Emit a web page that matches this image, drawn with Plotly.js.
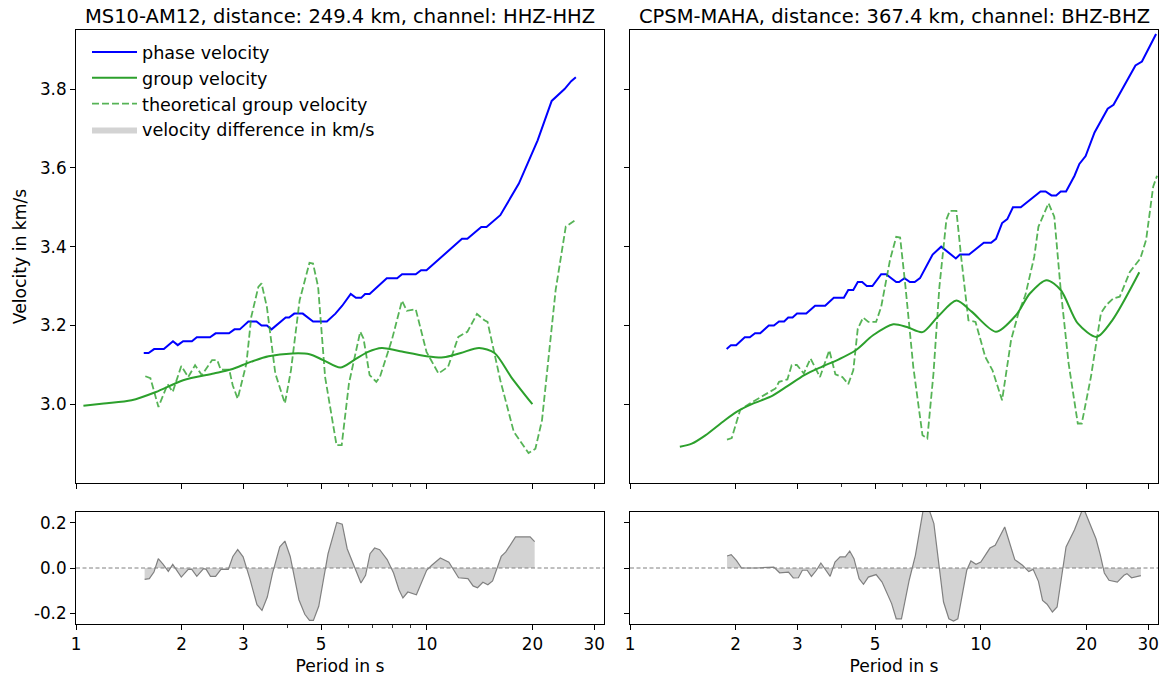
<!DOCTYPE html>
<html>
<head>
<meta charset="utf-8">
<script src="https://cdn.plot.ly/plotly-3.0.1.min.js"></script>
<style>
  html, body { margin: 0; padding: 0; background: #ffffff; }
  #chart { width: 1163px; height: 682px; }
</style>
</head>
<body>
<div id="chart"></div>
<script>
// ---- MS10-AM12 (left column) ----
const leftPhasePeriod = [1.56, 1.61, 1.67, 1.78, 1.89, 1.95, 2.02, 2.14, 2.21, 2.41, 2.50, 2.73, 2.83, 2.93, 3.10, 3.27, 3.38, 3.50, 3.61, 3.96, 4.05, 4.19, 4.43, 4.74, 5.19, 5.49, 5.74, 6.07, 6.28, 6.50, 6.67, 6.87, 7.69, 8.23, 8.50, 9.30, 9.63, 9.98, 12.6, 13.05, 14.3, 14.8, 16.2, 18.3, 20.7, 22.7, 24.7, 25.8, 26.6];
const leftPhaseVel = [3.13, 3.13, 3.14, 3.14, 3.16, 3.15, 3.16, 3.16, 3.17, 3.17, 3.18, 3.18, 3.19, 3.19, 3.21, 3.21, 3.20, 3.20, 3.19, 3.22, 3.22, 3.23, 3.23, 3.21, 3.21, 3.23, 3.25, 3.28, 3.27, 3.27, 3.28, 3.28, 3.32, 3.32, 3.33, 3.33, 3.34, 3.34, 3.42, 3.42, 3.45, 3.45, 3.48, 3.56, 3.67, 3.77, 3.80, 3.82, 3.83];

const leftGroupPeriod = [1.05, 1.20, 1.44, 1.69, 2.02, 2.47, 2.76, 3.16, 3.54, 4.14, 4.63, 5.07, 5.67, 6.20, 6.80, 7.44, 8.33, 9.98, 11.17, 12.5, 14.1, 15.6, 17.4, 20.0];
const leftGroupVel = [2.996, 3.002, 3.010, 3.031, 3.061, 3.078, 3.088, 3.108, 3.122, 3.129, 3.127, 3.112, 3.093, 3.112, 3.133, 3.143, 3.135, 3.122, 3.119, 3.130, 3.143, 3.130, 3.069, 3.000];

const leftTheoPeriod = [1.576, 1.63, 1.718, 1.825, 1.886, 1.996, 2.089, 2.185, 2.284, 2.443, 2.527, 2.585, 2.734, 2.797, 2.89, 3.06, 3.16, 3.31, 3.38, 3.50, 3.70, 3.94, 4.10, 4.34, 4.63, 4.74, 4.90, 5.13, 5.53, 5.72, 6.00, 6.46, 6.60, 6.87, 7.18, 7.35, 7.95, 8.50, 8.77, 9.30, 9.98, 10.8, 11.5, 12.3, 13.05, 13.9, 14.6, 14.9, 16.2, 17.7, 19.5, 20.4, 21.3, 23.3, 24.9, 26.4];
const leftTheoVel = [3.071, 3.066, 2.993, 3.051, 3.031, 3.097, 3.069, 3.099, 3.074, 3.112, 3.112, 3.088, 3.088, 3.048, 3.014, 3.103, 3.222, 3.298, 3.307, 3.247, 3.078, 3.002, 3.086, 3.264, 3.359, 3.357, 3.298, 3.069, 2.896, 2.896, 3.053, 3.184, 3.167, 3.074, 3.057, 3.069, 3.163, 3.263, 3.237, 3.241, 3.133, 3.078, 3.095, 3.171, 3.184, 3.229, 3.213, 3.209, 3.061, 2.930, 2.876, 2.887, 2.959, 3.290, 3.451, 3.466];

const leftDiffPeriod = [1.569, 1.618, 1.668, 1.716, 1.772, 1.833, 1.887, 1.996, 2.089, 2.138, 2.21, 2.31, 2.35, 2.417, 2.50, 2.59, 2.717, 2.80, 2.89, 2.995, 3.13, 3.28, 3.39, 3.51, 3.63, 3.81, 3.94, 4.08, 4.32, 4.49, 4.63, 4.75, 4.92, 5.23, 5.54, 5.74, 5.93, 6.23, 6.49, 6.69, 6.89, 7.10, 7.34, 7.71, 8.04, 8.33, 8.55, 8.83, 9.34, 9.99, 10.33, 10.93, 11.56, 12.32, 13.1, 13.55, 13.95, 14.45, 14.93, 15.4, 16.3, 16.8, 17.9, 19.7, 20.3];
const leftDiffVel = [-0.050, -0.047, -0.018, 0.041, 0.016, -0.015, 0.016, -0.040, -0.006, -0.006, -0.037, -0.003, -0.006, -0.037, -0.037, -0.006, -0.006, 0.051, 0.081, 0.049, -0.047, -0.162, -0.187, -0.128, -0.025, 0.093, 0.119, 0.051, -0.140, -0.204, -0.231, -0.231, -0.169, 0.063, 0.201, 0.193, 0.085, 0.004, -0.066, -0.032, 0.063, 0.088, 0.081, 0.037, -0.022, -0.096, -0.132, -0.106, -0.118, -0.010, 0.012, 0.044, 0.026, -0.043, -0.047, -0.079, -0.087, -0.063, -0.074, -0.057, 0.051, 0.071, 0.137, 0.137, 0.116];

// ---- CPSM-MAHA (right column) ----
const rightPhasePeriod = [1.886, 1.94, 2.007, 2.124, 2.196, 2.272, 2.35, 2.487, 2.572, 2.659, 2.75, 2.825, 2.907, 2.993, 3.18, 3.37, 3.60, 3.81, 4.07, 4.19, 4.33, 4.46, 4.59, 4.73, 4.91, 5.20, 5.37, 5.74, 5.85, 6.06, 6.28, 6.48, 6.71, 7.29, 7.71, 8.49, 8.72, 9.26, 10.2, 10.7, 11.05, 11.5, 11.9, 12.35, 12.6, 13.0, 14.8, 15.3, 15.9, 16.4, 16.9, 17.5, 18.5, 19.1, 19.9, 21.1, 23.0, 23.9, 27.6, 28.8, 31.6];
const rightPhaseVel = [3.14, 3.15, 3.15, 3.17, 3.17, 3.18, 3.18, 3.20, 3.20, 3.21, 3.21, 3.22, 3.22, 3.23, 3.23, 3.25, 3.25, 3.27, 3.27, 3.29, 3.29, 3.31, 3.31, 3.30, 3.30, 3.33, 3.33, 3.31, 3.31, 3.32, 3.31, 3.31, 3.32, 3.38, 3.40, 3.37, 3.38, 3.38, 3.41, 3.41, 3.42, 3.46, 3.47, 3.50, 3.50, 3.50, 3.54, 3.54, 3.53, 3.53, 3.54, 3.54, 3.58, 3.61, 3.63, 3.69, 3.75, 3.76, 3.86, 3.87, 3.94];

const rightGroupPeriod = [1.387, 1.50, 1.64, 1.836, 2.007, 2.248, 2.516, 2.81, 3.14, 3.52, 3.94, 4.40, 4.93, 5.63, 6.16, 6.82, 7.54, 8.52, 9.42, 11.05, 12.6, 13.8, 15.4, 16.9, 18.9, 21.4, 23.7, 28.3];
const rightGroupVel = [2.892, 2.900, 2.921, 2.955, 2.980, 3.002, 3.019, 3.046, 3.074, 3.095, 3.114, 3.137, 3.175, 3.203, 3.196, 3.183, 3.222, 3.263, 3.235, 3.184, 3.226, 3.281, 3.315, 3.290, 3.205, 3.171, 3.213, 3.335];

const rightTheoPeriod = [1.89, 1.95, 2.06, 2.196, 2.60, 2.66, 2.81, 2.89, 2.99, 3.13, 3.27, 3.48, 3.70, 3.85, 4.03, 4.19, 4.33, 4.46, 4.62, 4.78, 5.03, 5.20, 5.51, 5.74, 5.89, 6.10, 6.42, 6.82, 7.04, 7.33, 7.62, 7.98, 8.16, 8.52, 8.81, 9.22, 9.66, 10.3, 10.8, 11.5, 12.2, 12.8, 13.4, 14.2, 14.6, 15.6, 16.2, 16.9, 17.8, 18.9, 19.4, 20.6, 22.0, 22.8, 23.9, 24.9, 26.6, 28.5, 29.6, 31.0, 31.8];
const rightTheoVel = [2.910, 2.914, 2.985, 3.002, 3.040, 3.057, 3.063, 3.099, 3.100, 3.078, 3.116, 3.069, 3.137, 3.076, 3.069, 3.051, 3.086, 3.192, 3.220, 3.209, 3.209, 3.247, 3.366, 3.425, 3.423, 3.298, 3.095, 2.921, 2.913, 3.078, 3.298, 3.469, 3.491, 3.491, 3.366, 3.213, 3.209, 3.120, 3.086, 3.010, 3.163, 3.231, 3.277, 3.374, 3.451, 3.510, 3.476, 3.290, 3.103, 2.951, 2.951, 3.069, 3.231, 3.252, 3.269, 3.273, 3.336, 3.370, 3.417, 3.552, 3.580];

const rightDiffPeriod = [1.891, 1.943, 2.01, 2.08, 2.30, 2.57, 2.67, 2.83, 2.92, 3.02, 3.10, 3.20, 3.29, 3.40, 3.50, 3.61, 3.72, 3.84, 3.97, 4.11, 4.23, 4.35, 4.50, 4.63, 4.78, 5.03, 5.23, 5.57, 5.74, 5.94, 6.25, 6.51, 6.84, 7.00, 7.15, 7.35, 7.83, 8.11, 8.36, 8.60, 9.12, 9.37, 9.69, 10.0, 10.62, 10.99, 11.7, 12.5, 13.15, 13.7, 14.1, 14.6, 15.0, 15.45, 16.0, 16.5, 17.5, 18.5, 19.4, 19.7, 21.3, 21.9, 22.5, 23.2, 24.5, 25.6, 26.1, 26.9, 28.6];
const rightDiffVel = [0.053, 0.059, 0.034, 0.000, 0.000, 0.004, -0.021, -0.018, -0.044, -0.043, -0.010, -0.010, -0.037, -0.010, 0.022, -0.007, -0.037, 0.026, 0.049, 0.049, 0.075, 0.041, -0.047, -0.072, -0.040, -0.029, -0.062, -0.157, -0.224, -0.224, -0.054, 0.056, 0.250, 0.280, 0.250, 0.196, -0.150, -0.224, -0.234, -0.224, -0.010, 0.031, 0.016, 0.026, 0.088, 0.100, 0.181, 0.037, 0.012, -0.016, -0.006, -0.059, -0.143, -0.160, -0.194, -0.172, 0.093, 0.169, 0.250, 0.258, 0.129, 0.059, -0.022, -0.054, -0.062, -0.032, -0.025, -0.043, -0.034];

const panelTitles = ['MS10-AM12, distance: 249.4 km, channel: HHZ-HHZ', 'CPSM-MAHA, distance: 367.4 km, channel: BHZ-BHZ'];
const periodTicks = [1, 2, 3, 5, 10, 20, 30];
const periodMinorTicks = [4, 6, 7, 8, 9];
const velocityTicks = [3.0, 3.2, 3.4, 3.6, 3.8];
const diffTicks = [-0.2, 0.0, 0.2];
const diffTickText = ['-0.2', '0.0', '0.2'];

// ---- figure geometry (pixels of the 1163 x 682 page) ----
const W = 1163, H = 682;
const px = v => v / W;
const py = v => 1 - v / H;
const colLeft = [px(76), px(604)];
const colRight = [px(630), px(1158)];
const rowTop = [py(483), py(30)];
const rowBottom = [py(624), py(512)];

const FONT = 'DejaVu Sans';
const BLUE = '#0000ff';
const GREEN = '#2ca02c';
const GREEN_DASH = 'rgba(44,160,44,0.8)';

function panelTraces(suffixTop, suffixBottom, d, legend) {
  const xt = 'x' + suffixTop, yt = 'y' + suffixTop;
  const xb = 'x' + suffixBottom, yb = 'y' + suffixBottom;
  return [
    { x: d.phaseT, y: d.phaseV, xaxis: xt, yaxis: yt, type: 'scatter', mode: 'lines',
      name: 'phase velocity', showlegend: legend,
      line: { color: BLUE, width: 2 } },
    { x: d.groupT, y: d.groupV, xaxis: xt, yaxis: yt, type: 'scatter', mode: 'lines',
      name: 'group velocity', showlegend: legend,
      line: { color: GREEN, width: 2, shape: 'spline', smoothing: 0.8 } },
    { x: d.theoT, y: d.theoV, xaxis: xt, yaxis: yt, type: 'scatter', mode: 'lines',
      name: 'theoretical group velocity', showlegend: legend,
      line: { color: GREEN_DASH, width: 1.8, dash: '7px,3px' } },
    { x: d.diffT, y: d.diffV, xaxis: xb, yaxis: yb, type: 'scatter', mode: 'lines',
      name: 'velocity difference in km/s', showlegend: legend,
      fill: 'tozeroy', fillcolor: '#d3d3d3', line: { width: 0, color: '#d3d3d3' } },
    { x: d.diffT, y: d.diffV, xaxis: xb, yaxis: yb, type: 'scatter', mode: 'lines',
      showlegend: false, line: { color: '#808080', width: 1.2 } }
  ];
}

const traces = [].concat(
  panelTraces('', '3', {
    phaseT: leftPhasePeriod, phaseV: leftPhaseVel,
    groupT: leftGroupPeriod, groupV: leftGroupVel,
    theoT: leftTheoPeriod, theoV: leftTheoVel,
    diffT: leftDiffPeriod, diffV: leftDiffVel
  }, true),
  panelTraces('2', '4', {
    phaseT: rightPhasePeriod, phaseV: rightPhaseVel,
    groupT: rightGroupPeriod, groupV: rightGroupVel,
    theoT: rightTheoPeriod, theoV: rightTheoVel,
    diffT: rightDiffPeriod, diffV: rightDiffVel
  }, false)
);

const tickFont = { family: FONT, size: 16.8, color: '#000000' };
const labelFont = { family: FONT, size: 17.2, color: '#000000' };

function periodAxis(domain, anchor, labelled) {
  return {
    type: 'log', domain: domain, anchor: anchor, range: [0, Math.log10(32)],
    tickmode: 'array', tickvals: periodTicks, ticktext: periodTicks.map(String),
    showticklabels: labelled, ticks: 'outside', ticklen: 5, tickwidth: 1, tickcolor: '#000',
    minor: { tickmode: 'array', tickvals: periodMinorTicks, ticks: 'outside', ticklen: 3, tickwidth: 0.8, tickcolor: '#000', showgrid: false },
    showline: true, linecolor: '#000', linewidth: 1, mirror: true,
    showgrid: false, zeroline: false, tickfont: tickFont,
    title: labelled ? { text: 'Period in s', font: labelFont, standoff: 6 } : { text: '' }
  };
}

function velocityAxis(domain, anchor, labelled) {
  return {
    domain: domain, anchor: anchor, range: [2.8, 3.95],
    tickmode: 'array', tickvals: velocityTicks, ticktext: velocityTicks.map(v => v.toFixed(1)),
    showticklabels: labelled, ticks: 'outside', ticklen: 5, tickwidth: 1, tickcolor: '#000',
    showline: true, linecolor: '#000', linewidth: 1, mirror: true,
    showgrid: false, zeroline: false, tickfont: tickFont,
    title: labelled ? { text: 'Velocity in km/s', font: labelFont, standoff: 8 } : { text: '' }
  };
}

function diffAxis(domain, anchor, labelled) {
  return {
    domain: domain, anchor: anchor, range: [-0.247, 0.247],
    tickmode: 'array', tickvals: diffTicks, ticktext: diffTickText,
    showticklabels: labelled, ticks: 'outside', ticklen: 5, tickwidth: 1, tickcolor: '#000',
    showline: true, linecolor: '#000', linewidth: 1, mirror: true,
    showgrid: false, zeroline: false, tickfont: tickFont
  };
}

function zeroLine(xref, yref) {
  return { type: 'line', xref: xref + ' domain', yref: yref, x0: 0, x1: 1, y0: 0, y1: 0,
           line: { color: '#808080', width: 1, dash: '4px,2.5px' }, layer: 'above' };
}

function panelTitle(text, domain) {
  return { text: text, xref: 'paper', yref: 'paper', x: (domain[0] + domain[1]) / 2, y: py(17),
           xanchor: 'center', yanchor: 'middle', showarrow: false,
           font: { family: FONT, size: 19.5, color: '#000' } };
}

const layout = {
  width: W, height: H,
  margin: { l: 0, r: 0, t: 0, b: 0 },
  paper_bgcolor: '#ffffff', plot_bgcolor: '#ffffff',
  font: { family: FONT, color: '#000' },
  showlegend: true,
  legend: {
    x: px(87), y: py(34), xanchor: 'left', yanchor: 'top',
    bgcolor: 'rgba(0,0,0,0)', borderwidth: 0, itemwidth: 45,
    font: { family: FONT, size: 17.6, color: '#000' }
  },
  xaxis: periodAxis(colLeft, 'y', false),
  yaxis: velocityAxis(rowTop, 'x', true),
  xaxis2: periodAxis(colRight, 'y2', false),
  yaxis2: velocityAxis(rowTop, 'x2', false),
  xaxis3: periodAxis(colLeft, 'y3', true),
  yaxis3: diffAxis(rowBottom, 'x3', true),
  xaxis4: periodAxis(colRight, 'y4', true),
  yaxis4: diffAxis(rowBottom, 'x4', false),
  shapes: [zeroLine('x3', 'y3'), zeroLine('x4', 'y4')],
  annotations: [panelTitle(panelTitles[0], colLeft), panelTitle(panelTitles[1], colRight)]
};

Plotly.newPlot('chart', traces, layout, { staticPlot: true, displayModeBar: false });
</script>
</body>
</html>
